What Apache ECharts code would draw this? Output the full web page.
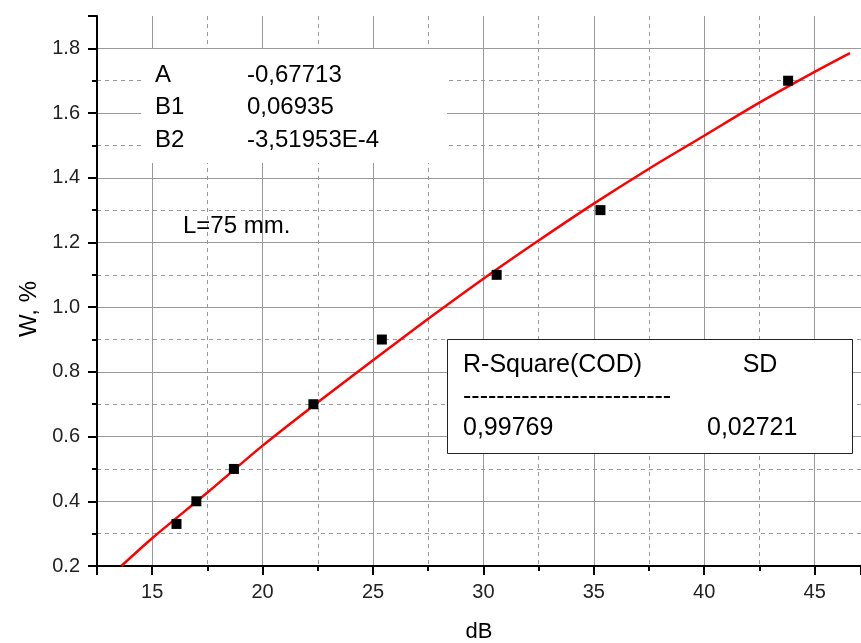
<!DOCTYPE html>
<html><head><meta charset="utf-8">
<script src="https://cdn.jsdelivr.net/npm/echarts@6/dist/echarts.min.js"></script>
<style>html,body{margin:0;padding:0;background:#fff}#c{width:861px;height:643px}</style>
</head><body><div id="c"></div>
<script>
// measured data points
const dataX = [16.1, 17.0, 18.7, 22.3, 25.4, 30.6, 35.3, 43.8];
const dataY = [0.33, 0.40, 0.50, 0.70, 0.90, 1.10, 1.30, 1.70];
// fitted curve
const fitX = [13.6, 15, 17.5, 20, 22.5, 25, 27.5, 30, 32.5, 35, 37.5, 40, 42.5, 45, 46.6];
const fitY = [0.20, 0.286, 0.427, 0.572, 0.706, 0.836, 0.964, 1.088, 1.206, 1.320, 1.428, 1.530, 1.632, 1.727, 1.785];
const paramNames = ['A', 'B1', 'B2'];
const paramValues = ['-0,67713', '0,06935', '-3,51953E-4'];
const statHeaders = ['R-Square(COD)', 'SD'];
const statValues = ['0,99769', '0,02721'];
const noteText = 'L=75 mm.';
const xName = 'dB';
const yName = 'W, %';

const FONT = 'Liberation Sans, Arial, sans-serif';
const chart = echarts.init(document.getElementById('c'), null, {renderer: 'canvas'});

const gridStyle = {color: '#999', width: 1};
const axisCommon = {
  type: 'value',
  axisLine: {show: true, onZero: false, lineStyle: {color: '#000', width: 2}},
  axisTick: {show: true, length: 9, lineStyle: {color: '#000', width: 2}},
  minorTick: {show: true, splitNumber: 2, length: 5, lineStyle: {color: '#000', width: 2}},
  splitLine: {show: true, lineStyle: gridStyle},
  minorSplitLine: {show: true, lineStyle: {color: '#999', width: 1, type: [4, 4]}}
};

const graphics = [];
// parameter table (white background hides grid)
graphics.push({type: 'rect', left: 141, top: 49, z: 100, shape: {x: 0, y: 0, width: 306, height: 114}, style: {fill: '#fff'}});
const rowY = [75, 107, 140];
paramNames.forEach((n, i) => {
  graphics.push({type: 'text', x: 155, y: rowY[i], z: 101, style: {text: n, font: '24px ' + FONT, fill: '#000', verticalAlign: 'middle', align: 'left'}});
  graphics.push({type: 'text', x: 247, y: rowY[i], z: 101, style: {text: paramValues[i], font: '24px ' + FONT, fill: '#000', verticalAlign: 'middle', align: 'left'}});
});
graphics.push({type: 'text', x: 183, y: 226, z: 101, style: {text: noteText, font: '24px ' + FONT, fill: '#000', verticalAlign: 'middle', align: 'left'}});
// statistics box
graphics.push({type: 'rect', z: 100, shape: {x: 447.5, y: 339.5, width: 405, height: 114}, style: {fill: '#fff', stroke: '#222', lineWidth: 1}});
graphics.push({type: 'text', x: 463, y: 365, z: 101, style: {text: statHeaders[0], font: '25px ' + FONT, fill: '#000', verticalAlign: 'middle', align: 'left'}});
graphics.push({type: 'text', x: 760, y: 365, z: 101, style: {text: statHeaders[1], font: '25px ' + FONT, fill: '#000', verticalAlign: 'middle', align: 'center'}});
graphics.push({type: 'text', x: 463, y: 397, z: 101, style: {text: '-------------------------', font: '25px ' + FONT, fill: '#000', verticalAlign: 'middle', align: 'left'}});
graphics.push({type: 'text', x: 463, y: 428, z: 101, style: {text: statValues[0], font: '25px ' + FONT, fill: '#000', verticalAlign: 'middle', align: 'left'}});
graphics.push({type: 'text', x: 707, y: 428, z: 101, style: {text: statValues[1], font: '25px ' + FONT, fill: '#000', verticalAlign: 'middle', align: 'left'}});

chart.setOption({
  animation: false,
  backgroundColor: '#fff',
  grid: {left: 97, right: 0, top: 16, bottom: 77, containLabel: false, outerBoundsMode: 'none'},
  xAxis: Object.assign({}, axisCommon, {
    min: 12.5, max: 47.1, splitNumber: 7,
    name: xName, nameLocation: 'middle', nameGap: 55,
    nameTextStyle: {fontSize: 22, fontFamily: FONT, color: '#000'},
    splitLine: {show: true, showMinLine: false, showMaxLine: false, lineStyle: gridStyle},
    axisLabel: {fontSize: 20, fontFamily: FONT, color: '#222', margin: 16, showMinLabel: false, showMaxLabel: false,
      formatter: v => String(Math.round(v))}
  }),
  yAxis: Object.assign({}, axisCommon, {
    min: 0.2, max: 1.9, splitNumber: 8,
    name: yName, nameLocation: 'middle', nameGap: 55,
    nameTextStyle: {fontSize: 24, fontFamily: FONT, color: '#000', padding: [0, 36, 0, 0]},
    splitLine: {show: true, showMinLine: false, showMaxLine: false, lineStyle: gridStyle},
    axisLabel: {fontSize: 20, fontFamily: FONT, color: '#222', margin: 17, showMaxLabel: false,
      formatter: v => v.toFixed(1)}
  }),
  graphic: graphics,
  series: [
    {type: 'line', data: fitX.map((x, i) => [x, fitY[i]]), smooth: 0.3, showSymbol: false, symbol: 'none',
      lineStyle: {color: '#ff0000', width: 2.5}, z: 3, clip: true},
    {type: 'scatter', data: dataX.map((x, i) => [x, dataY[i]]), symbol: 'rect', symbolSize: 10,
      itemStyle: {color: '#000', opacity: 1}, z: 4}
  ]
});
</script></body></html>
